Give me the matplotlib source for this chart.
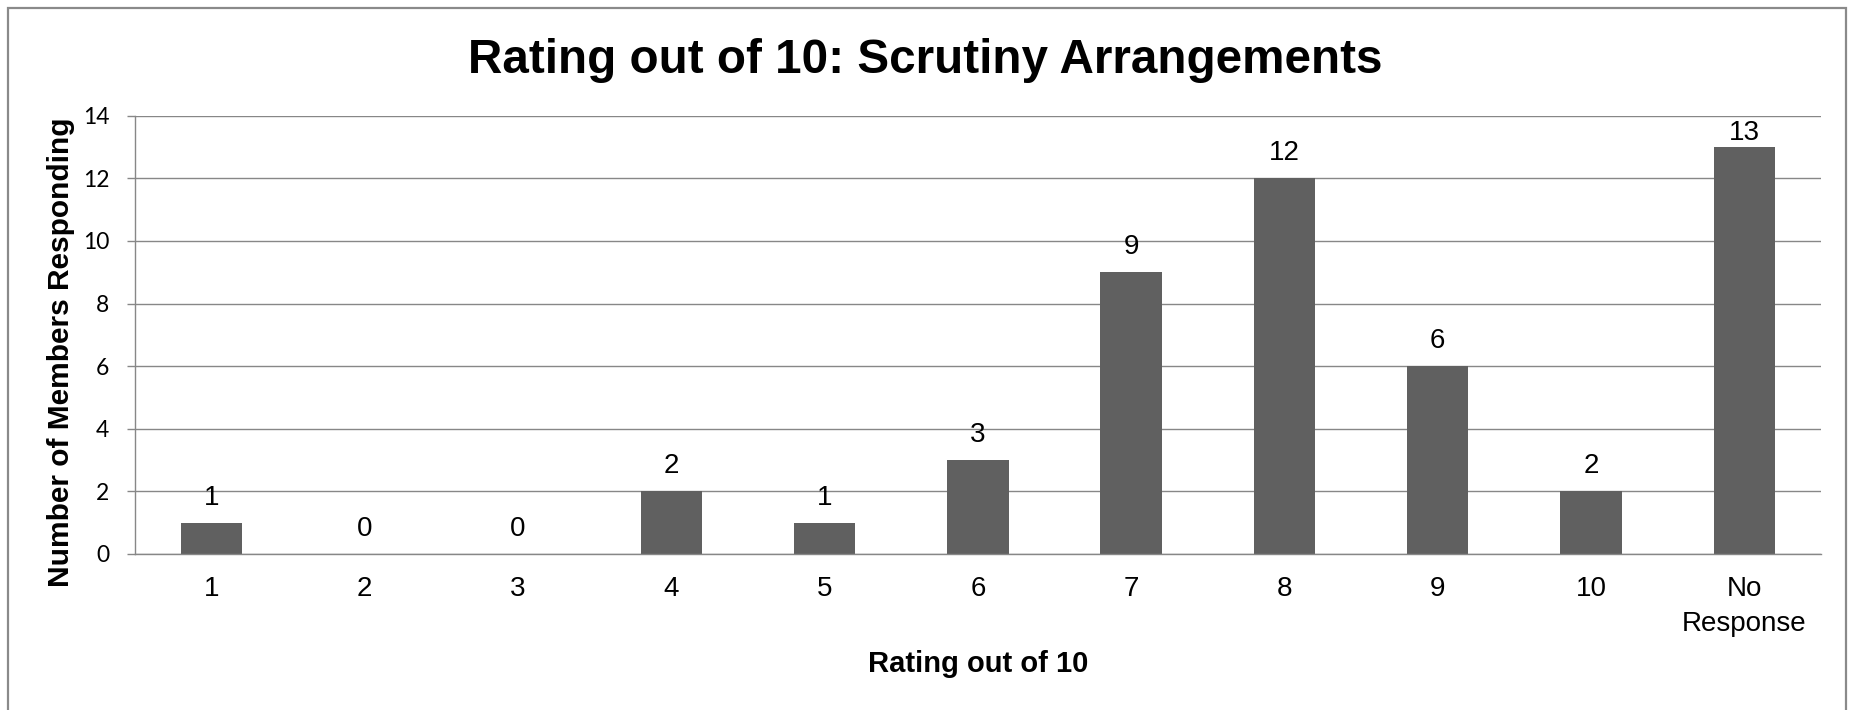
import matplotlib
matplotlib.use("Agg")
import matplotlib.pyplot as plt
from matplotlib.patches import Rectangle

categories = ["1", "2", "3", "4", "5", "6", "7", "8", "9", "10", "No\nResponse"]
counts = [1, 0, 0, 2, 1, 3, 9, 12, 6, 2, 13]
yticks = [0, 2, 4, 6, 8, 10, 12, 14]

title = "Rating out of 10: Scrutiny Arrangements"
xlabel = "Rating out of 10"
ylabel = "Number of Members Responding"

W, H = 1850, 710
DPI = 100
fig = plt.figure(figsize=(W / DPI, H / DPI), dpi=DPI)
fig.patch.set_facecolor("white")

ax_left, ax_right = 134.7 / W, 1821 / W
ax_top, ax_bottom = 1 - 115.7 / H, 1 - 554 / H
ax = fig.add_axes([ax_left, ax_bottom, ax_right - ax_left, ax_top - ax_bottom])

grid_col = "#878787"
bar_col = "#606060"
arial = ["Liberation Sans", "DejaVu Sans"]

x = list(range(len(categories)))
ax.bar(x, counts, width=0.40, color=bar_col, edgecolor="none", zorder=3)

ax.set_xlim(-0.5, len(categories) - 0.5)
ax.set_ylim(0, 14)
ax.set_yticks(yticks)
ax.set_yticklabels([str(t) for t in yticks], family=["Lato", "DejaVu Sans"], fontsize=16.5)
ax.set_xticks(x)
ax.set_xticklabels(categories, family=arial, fontsize=20, linespacing=1.42)

ax.tick_params(axis="x", length=0, pad=16.0)
ax.tick_params(axis="y", length=5.8, width=1.0, color=grid_col, pad=12.5)

ax.yaxis.grid(True, color=grid_col, linewidth=1.0, zorder=0)
ax.set_axisbelow(True)
for s in ["top", "right"]:
    ax.spines[s].set_visible(False)
for s in ["left", "bottom"]:
    ax.spines[s].set_color(grid_col)
    ax.spines[s].set_linewidth(1.0)
ax.spines["bottom"].set_zorder(4)

# data labels: 18 px above bar, but kept inside the plot area (as the original does)
axes_top_px = ax.bbox.y1
for xi, v in zip(x, counts):
    bar_top_px = ax.transData.transform((xi, v))[1]
    baseline_px = min(bar_top_px + 18, axes_top_px - 24.3)
    off_pt = (baseline_px - bar_top_px) * 72.0 / DPI
    ax.annotate(str(v), xy=(xi, v), xytext=(0, off_pt), textcoords="offset points",
                ha="center", va="baseline", fontsize=20, family=arial, zorder=5)

fig.text(0.5, 1 - 72.7 / H, title, ha="center", va="baseline",
         fontsize=34.3, fontweight="bold", family=arial)
fig.text((ax_left + ax_right) / 2, 1 - 664 / H, xlabel, ha="center", va="center",
         fontsize=21, fontweight="bold", family=arial)
fig.text(61 / W, 1 - 352 / H, ylabel, ha="center", va="center", rotation=90,
         fontsize=21.5, fontweight="bold", family=arial)

# outer chart frame
frame = Rectangle((7.7 / W, -0.05), (1846 - 7.7) / W, 1 - 7.7 / H + 0.05,
                  transform=fig.transFigure, fill=False, edgecolor="#8a8a8a",
                  linewidth=1.6, zorder=10)
fig.patches.append(frame)

fig.savefig("out.png", dpi=DPI, facecolor="white")
